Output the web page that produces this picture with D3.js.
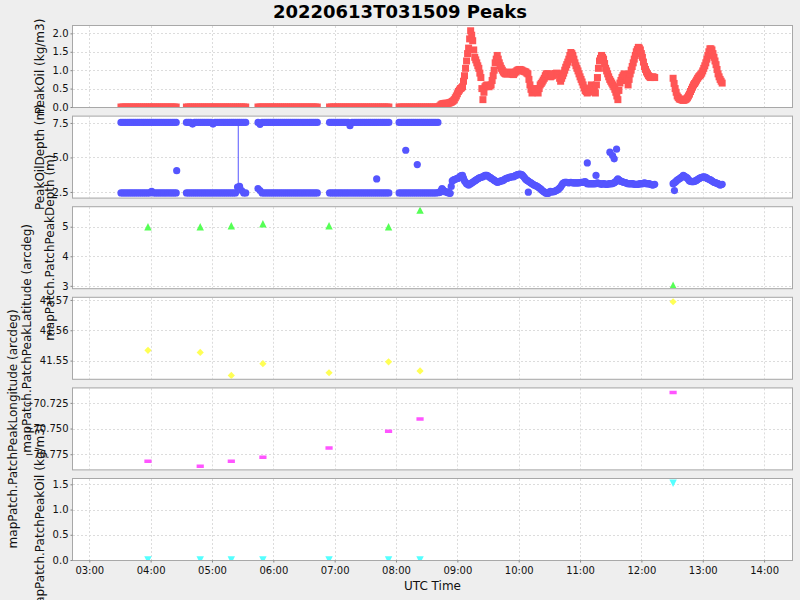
<!DOCTYPE html>
<html><head><meta charset="utf-8">
<script src="https://cdn.jsdelivr.net/npm/d3@7"></script>
<style>
body{margin:0;background:#eeeeee}
svg{display:block}
text{font-family:"DejaVu Sans",sans-serif}
</style>
</head><body>
<svg id="c" width="800" height="600"></svg>
<script>
const chartTitle = "20220613T031509 Peaks";
const day = "2022-06-13";
const xAxisLabel = "UTC Time";
const yLabels = ["PeakOil (kg/m3)", "PeakOilDepth (m)", "mapPatch.PatchPeakDepth (m)",
  "mapPatch.PatchPeakLatitude (arcdeg)", "mapPatch.PatchPeakLongitude (arcdeg)", "mapPatch.PatchPeakOil (kg/m3)"];
const xTickLabels = ["03:00","04:00","05:00","06:00","07:00","08:00","09:00","10:00","11:00","12:00","13:00","14:00"];
const yTicks1 = [0, 0.5, 1.0, 1.5, 2.0];
const yTicks2 = [2.5, 5.0, 7.5];
const yTicks3 = [3, 4, 5];
const yTicks4 = [41.55, 41.56, 41.57];
const yTicks5 = [-70.775, -70.75, -70.725];
const yTicks6 = [0, 0.5, 1.0, 1.5];

// early part of the record: one sample every 2 minutes from 03:31
const earlyStart = "03:31";
const earlyStepMinutes = 2;
// later part of the record: one sample every minute from 08:41
const lateStart = "08:41";
const lateStepMinutes = 1;

const peakOilEarly = [
0,0,0,0,0,0,0,0,0,0,
0,0,0,0,0,0,0,0,0,0,
0,0,0,0,0,0,0,0,null,null,
null,null,0,0,0,0,0,0,0,0,
0,0,0,0,0,0,0,0,0,0,
0,0,0,0,0,0,0,0,0,0,
0,0,null,null,null,null,null,0,0,0,
0,0,0,0,0,0,0,0,0,0,
0,0,0,0,0,0,0,0,0,0,
0,0,0,0,0,0,0,null,null,null,
null,null,0,0,0,0,0,0,0,0,
0,0,0,0,0,0,0,0,0,0,
0,0,0,0,0,0,0,0,0,0,
0,0,null,null,null,null,0,0,0,0,
0,0,0,0,0,0,0,0,0,0,
0,0,0,0,0
];
const peakOilLate = [
0,0.01,0.03,0.06,0.08,0.09,0.09,0.1,0.1,0.1,
0.1,0.11,0.12,0.13,0.15,0.17,0.2,0.25,0.3,0.36,
0.42,0.46,0.5,0.52,0.55,0.7,0.85,1.05,1.25,1.45,
1.6,1.85,2.07,1.95,1.8,1.55,1.35,1.28,1.2,1.12,
1.05,0.92,0.8,0.5,0.2,0.4,0.55,0.58,0.6,0.58,
0.55,0.58,0.6,0.72,0.85,1.0,1.2,1.3,1.4,1.3,
1.2,1.12,1.05,1.0,0.95,0.92,0.9,0.9,0.9,0.92,
0.95,0.92,0.9,0.89,0.88,0.92,0.95,0.98,1.0,1.01,
1.02,1.01,1.0,0.98,0.97,0.96,0.95,0.92,0.9,0.75,
0.6,0.48,0.38,0.44,0.5,0.49,0.48,0.43,0.38,0.5,
0.6,0.64,0.68,0.73,0.78,0.85,0.9,0.9,0.9,0.86,
0.82,0.84,0.85,0.88,0.9,0.91,0.92,0.9,0.88,0.78,
0.7,0.78,0.85,0.92,1.0,1.08,1.15,1.22,1.3,1.4,
1.48,1.45,1.4,1.3,1.2,1.12,1.05,0.98,0.9,0.82,
0.75,0.68,0.6,0.52,0.45,0.42,0.38,0.4,0.42,0.5,
0.6,0.58,0.55,0.45,0.38,0.6,0.8,1.05,1.25,1.32,
1.4,1.35,1.3,1.18,1.05,0.98,0.9,0.82,0.75,0.7,
0.65,0.6,0.55,0.48,0.4,0.3,0.2,0.45,0.65,0.72,
0.8,0.85,0.9,0.88,0.85,0.72,0.6,0.75,0.9,1.0,
1.1,1.2,1.3,1.4,1.5,1.56,1.62,1.6,1.55,1.45,
1.35,1.22,1.1,1.02,0.95,0.9,0.85,0.82,0.8,0.81,
0.82,0.81,0.8,null,null,null,null,null,null,null,
null,null,null,null,null,null,null,null,null,null,
0.78,0.64,0.5,0.4,0.3,0.26,0.22,0.21,0.2,0.19,
0.18,0.19,0.2,0.22,0.25,0.3,0.35,0.42,0.48,0.54,
0.6,0.64,0.68,0.73,0.78,0.82,0.85,0.88,0.92,0.98,
1.05,1.12,1.2,1.3,1.4,1.5,1.58,1.58,1.55,1.45,
1.35,1.25,1.15,1.02,0.9,0.82,0.75,0.7,0.65
];

const peakOilDepthUpperEarly = [
7.54,7.54,7.54,7.54,7.54,7.54,7.54,7.54,7.54,7.54,
7.54,7.54,7.54,7.54,7.54,7.54,7.54,7.54,7.54,7.54,
7.54,7.54,7.54,7.54,7.54,7.54,7.54,7.54,null,null,
null,null,7.54,7.54,7.54,7.42,7.54,7.54,7.54,7.54,
7.54,7.54,7.54,7.54,7.54,7.42,7.54,7.54,7.54,7.54,
7.54,7.54,7.54,7.54,7.54,7.54,7.54,7.54,7.54,7.54,
7.54,7.54,null,null,null,null,null,7.54,7.4,7.54,
7.54,7.54,7.54,7.54,7.54,7.54,7.54,7.54,7.54,7.54,
7.54,7.54,7.54,7.54,7.54,7.54,7.54,7.54,7.54,7.54,
7.54,7.54,7.54,7.54,7.54,7.54,7.54,null,null,null,
null,null,7.54,7.54,7.54,7.54,7.54,7.54,7.54,7.54,
7.54,7.54,7.3,7.54,7.54,7.54,7.54,7.54,7.54,7.54,
7.54,7.54,7.54,7.54,7.54,7.54,7.54,7.54,7.54,7.54,
7.54,7.54,null,null,null,null,7.54,7.54,7.54,7.54,
7.54,7.54,7.54,7.54,7.54,7.54,7.54,7.54,7.54,7.54,
7.54,7.54,7.54,7.54,7.54,7.54
];

const peakOilDepthLowerEarly = [
2.43,2.43,2.43,2.43,2.43,2.43,2.43,2.43,2.43,2.43,
2.43,2.43,2.43,2.43,2.43,2.55,2.43,2.43,2.43,2.43,
2.43,2.43,2.43,2.43,2.43,2.43,2.43,2.43,null,null,
null,null,2.43,2.43,2.43,2.43,2.43,2.43,2.43,2.43,
2.43,2.43,2.43,2.43,2.43,2.43,2.43,2.43,2.43,2.43,
2.43,2.43,2.43,2.43,2.43,2.43,2.43,2.85,2.9,2.6,
2.43,2.43,null,null,null,null,null,2.75,2.6,2.43,
2.43,2.43,2.43,2.43,2.43,2.43,2.43,2.43,2.43,2.43,
2.43,2.43,2.43,2.43,2.43,2.43,2.43,2.43,2.43,2.43,
2.43,2.43,2.43,2.43,2.43,2.43,2.43,null,null,null,
null,null,2.43,2.43,2.43,2.43,2.43,2.43,2.43,2.43,
2.43,2.43,2.43,2.43,2.43,2.43,2.43,2.43,2.43,2.43,
2.43,2.43,2.43,2.43,2.43,2.43,2.43,2.43,2.43,2.43,
2.43,2.43,null,null,null,null,2.43,2.43,2.43,2.43,
2.43,2.43,2.43,2.43,2.43,2.43,2.43,2.43,2.43,2.43,
2.43,2.43,2.43,2.43,2.43
];
const peakOilDepthLowerLate = [
2.45,2.46,2.48,2.6,2.75,2.65,2.55,2.52,2.5,2.48,
2.45,2.42,2.4,2.9,3.3,3.35,3.4,3.42,3.45,3.48,
3.5,3.58,3.65,3.68,3.7,3.5,3.3,3.2,3.1,3.05,
3.0,3.05,3.1,3.15,3.2,3.25,3.3,3.35,3.4,3.45,
3.5,3.52,3.55,3.58,3.6,3.65,3.7,3.7,3.7,3.65,
3.6,3.55,3.5,3.45,3.4,3.35,3.3,3.25,3.2,3.22,
3.25,3.28,3.3,3.32,3.35,3.4,3.45,3.48,3.5,3.52,
3.55,3.58,3.6,3.6,3.6,3.65,3.7,3.72,3.75,3.78,
3.8,3.78,3.75,3.68,3.6,3.5,3.4,3.35,3.3,3.25,
3.2,3.15,3.1,3.05,3.0,2.98,2.95,2.9,2.85,2.8,
2.75,2.68,2.6,2.55,2.5,2.45,2.4,2.4,2.4,2.48,
2.55,2.52,2.5,2.52,2.55,2.58,2.6,2.65,2.7,2.78,
2.85,2.98,3.1,3.15,3.2,3.2,3.2,3.18,3.15,3.18,
3.2,3.18,3.15,3.15,3.15,3.15,3.15,3.15,3.15,3.18,
3.2,3.2,3.2,3.22,3.25,3.18,3.1,3.1,3.1,3.1,
3.1,3.1,3.1,3.1,3.1,3.12,3.15,3.12,3.1,3.08,
3.05,3.08,3.1,3.08,3.05,3.05,3.05,3.08,3.1,3.1,
3.1,3.12,3.15,3.2,3.25,3.35,3.45,3.38,3.3,3.28,
3.25,3.22,3.2,3.18,3.15,3.12,3.1,3.1,3.1,3.1,
3.1,3.08,3.05,3.05,3.05,3.05,3.05,3.08,3.1,3.1,
3.1,3.12,3.15,3.12,3.1,3.1,3.1,3.08,3.05,3.02,
3.0,3.02,3.05,null,null,null,null,null,null,null,
null,null,null,null,null,null,null,null,null,null,
3.1,3.15,3.2,3.28,3.35,3.4,3.45,3.5,3.55,3.62,
3.7,3.65,3.6,3.55,3.5,3.4,3.3,3.28,3.25,3.25,
3.25,3.28,3.3,3.35,3.4,3.45,3.5,3.52,3.55,3.58,
3.6,3.58,3.55,3.5,3.45,3.42,3.4,3.35,3.3,3.25,
3.2,3.18,3.15,3.12,3.1,3.05,3.0,3.02,3.05
];

const depthOutlierTimes = ["04:25:30","07:41:06","08:09:30","08:20:48","10:09:24","11:07:06",
  "11:15:36","11:29:12","11:31:48","11:33:24","11:35:42","12:32:18"];
const depthOutlierValues = [4.04, 3.44, 5.52, 4.48, 2.48, 4.6, 3.7, 5.38, 5.14, 4.9, 5.6, 2.6];
const depthLinkTimes = ["05:25:42", "05:25:42"];
const depthLinkValues = [7.54, 2.9];

const patchTimes = ["03:57:24","04:48:30","05:18:54","05:49:48","06:54:30","07:52:42","08:23:30","12:31:00"];
const patchPeakDepth = [5.0, 5.0, 5.03, 5.1, 5.03, 5.0, 5.56, 3.02];
const patchPeakLatitude = [41.5534, 41.5527, 41.5451, 41.549, 41.546, 41.5496, 41.5466, 41.5694];
const patchPeakLongitude = [-70.7819, -70.7868, -70.7819, -70.778, -70.769, -70.7526, -70.7407, -70.7149];
const patchPeakOil = [0, 0, 0, 0, 0, 0, 0, 1.52];

const seriesColors = ["#ff5555", "#5555ff", "#55ff55", "#ffff55", "#ff55ff", "#55ffff"];

// ---------- drawing ----------
const parseT = s => new Date(`${day}T${s.length === 5 ? s + ":00" : s}Z`);
const gridSeries = (start, stepMin, values) => {
  const t0 = parseT(start).getTime();
  return values.map((v, i) => ({t: new Date(t0 + i * stepMin * 60000), v})).filter(d => d.v !== null);
};
const pairs = (times, values) => values.map((v, i) => ({t: parseT(times[i]), v}));

const W = 800, H = 600, L = 73, R = 792;
const panelTop0 = 26, panelH = 81, panelStep = 90.6;

const svg = d3.select("#c");
svg.append("rect").attr("width", W).attr("height", H).attr("fill", "#eeeeee");

const x = d3.scaleUtc().domain([parseT("02:44:04"), parseT("14:27:18")]).range([L, R]);
const xTicks = xTickLabels.map(parseT);

function shapePath(type, s) {
  switch (type) {
    case "square": return `M${-s},${-s}h${2*s}v${2*s}h${-2*s}Z`;
    case "circle": return `M${-s},0a${s},${s} 0 1,0 ${2*s},0a${s},${s} 0 1,0 ${-2*s},0Z`;
    case "up": return `M0,${-s}L${s},${s}L${-s},${s}Z`;
    case "diamond": return `M0,${-s}L${s},0L0,${s}L${-s},0Z`;
    case "hrect": return `M${-s},${-s/2}h${2*s}v${s}h${-2*s}Z`;
    case "down": return `M${-s},${-s}L${s},${-s}L0,${s}Z`;
  }
}

const panels = [
  {domain: [0, 2.2], ticks: yTicks1, fmt: d3.format(".1f"),
   series: [
     {data: gridSeries(earlyStart, earlyStepMinutes, peakOilEarly), shape: "square", size: 3.5, color: seriesColors[0]},
     {data: gridSeries(lateStart, lateStepMinutes, peakOilLate), shape: "square", size: 3.5, color: seriesColors[0]}]},
  {domain: [2.09, 7.96], ticks: yTicks2, fmt: d3.format(".1f"),
   lines: [{data: pairs(depthLinkTimes, depthLinkValues), color: seriesColors[1]}],
   series: [
     {data: gridSeries(earlyStart, earlyStepMinutes, peakOilDepthUpperEarly), shape: "circle", size: 3.6, color: seriesColors[1]},
     {data: gridSeries(earlyStart, earlyStepMinutes, peakOilDepthLowerEarly), shape: "circle", size: 3.6, color: seriesColors[1]},
     {data: gridSeries(lateStart, lateStepMinutes, peakOilDepthLowerLate), shape: "circle", size: 3.6, color: seriesColors[1]},
     {data: pairs(depthOutlierTimes, depthOutlierValues), shape: "circle", size: 3.6, color: seriesColors[1]}]},
  {domain: [2.92, 5.66], ticks: yTicks3, fmt: d3.format("d"),
   series: [{data: pairs(patchTimes, patchPeakDepth), shape: "up", size: 3.7, color: seriesColors[2]}]},
  {domain: [41.544, 41.5707], ticks: yTicks4, fmt: d3.format(".2f"),
   series: [{data: pairs(patchTimes, patchPeakLatitude), shape: "diamond", size: 3.6, color: seriesColors[3]}]},
  {domain: [-70.7898, -70.7109], ticks: yTicks5, fmt: d3.format(".3f"),
   series: [{data: pairs(patchTimes, patchPeakLongitude), shape: "hrect", size: 3.6, color: seriesColors[4]}]},
  {domain: [0, 1.605], ticks: yTicks6, fmt: d3.format(".1f"),
   series: [{data: pairs(patchTimes, patchPeakOil), shape: "down", size: 3.7, color: seriesColors[5]}]}
];

const labelLayer = svg.append("g");

panels.forEach((p, k) => {
  const top = panelTop0 + k * panelStep, bottom = top + panelH;
  const y = d3.scaleLinear().domain(p.domain).range([bottom, top]);
  const g = svg.append("g");
  g.append("rect").attr("x", L).attr("y", top).attr("width", R - L).attr("height", panelH).attr("fill", "#fff");
  const clipId = "clip" + k;
  svg.append("clipPath").attr("id", clipId).append("rect")
    .attr("x", L).attr("y", top).attr("width", R - L).attr("height", panelH);
  g.append("g").selectAll("line").data(xTicks).join("line")
    .attr("x1", d => Math.round(x(d)) + 0.5).attr("x2", d => Math.round(x(d)) + 0.5)
    .attr("y1", top).attr("y2", bottom)
    .attr("stroke", "#dcdcdc").attr("stroke-dasharray", "2,2");
  g.append("g").selectAll("line").data(p.ticks).join("line")
    .attr("y1", d => Math.round(y(d)) + 0.5).attr("y2", d => Math.round(y(d)) + 0.5)
    .attr("x1", L).attr("x2", R)
    .attr("stroke", "#dcdcdc").attr("stroke-dasharray", "2,2");
  const dg = g.append("g").attr("clip-path", `url(#${clipId})`);
  (p.lines || []).forEach(ln => {
    dg.append("path").datum(ln.data)
      .attr("d", d3.line().x(d => x(d.t)).y(d => y(d.v)))
      .attr("fill", "none").attr("stroke", ln.color).attr("stroke-width", 1);
  });
  p.series.forEach(s => {
    dg.append("g").selectAll("path").data(s.data).join("path")
      .attr("transform", d => `translate(${x(d.t)},${y(d.v)})`)
      .attr("d", shapePath(s.shape, s.size)).attr("fill", s.color);
  });
  g.append("rect").attr("x", L - 0.5).attr("y", top - 0.5).attr("width", R - L + 1).attr("height", panelH + 1)
    .attr("fill", "none").attr("stroke", "#a8a8a8");
  const ax = g.append("g").attr("transform", `translate(${L - 0.5},0)`)
    .call(d3.axisLeft(y).tickValues(p.ticks).tickFormat(p.fmt).tickSize(2).tickPadding(2));
  ax.select(".domain").remove();
  ax.selectAll(".tick line").attr("stroke", "#888");
  ax.selectAll(".tick text").attr("font-family", "DejaVu Sans").attr("font-size", 10).attr("fill", "#111");
  const maxW = d3.max(ax.selectAll(".tick text").nodes(), n => n.getComputedTextLength());
  const lx = L - 4.5 - maxW - 8.5;
  labelLayer.append("text")
    .attr("transform", `translate(${lx},${(top + bottom) / 2}) rotate(-90)`)
    .attr("text-anchor", "middle").attr("font-size", 12).attr("fill", "#111")
    .text(yLabels[k]);
  if (k === panels.length - 1) {
    const xa = svg.append("g").attr("transform", `translate(0,${bottom + 0.5})`)
      .call(d3.axisBottom(x).tickValues(xTicks).tickFormat(d3.utcFormat("%H:%M")).tickSize(2).tickPadding(4));
    xa.select(".domain").remove();
    xa.selectAll(".tick line").attr("stroke", "#888");
    xa.selectAll(".tick text").attr("font-family", "DejaVu Sans").attr("font-size", 10).attr("fill", "#111");
    svg.append("text").attr("x", (L + R) / 2).attr("y", bottom + 30)
      .attr("text-anchor", "middle").attr("font-size", 12).attr("fill", "#111").text(xAxisLabel);
  }
});
labelLayer.raise();

svg.append("text").attr("x", W / 2).attr("y", 18).attr("text-anchor", "middle")
  .attr("font-size", 18).attr("font-weight", "bold").attr("fill", "#000").text(chartTitle);
</script>
</body></html>
